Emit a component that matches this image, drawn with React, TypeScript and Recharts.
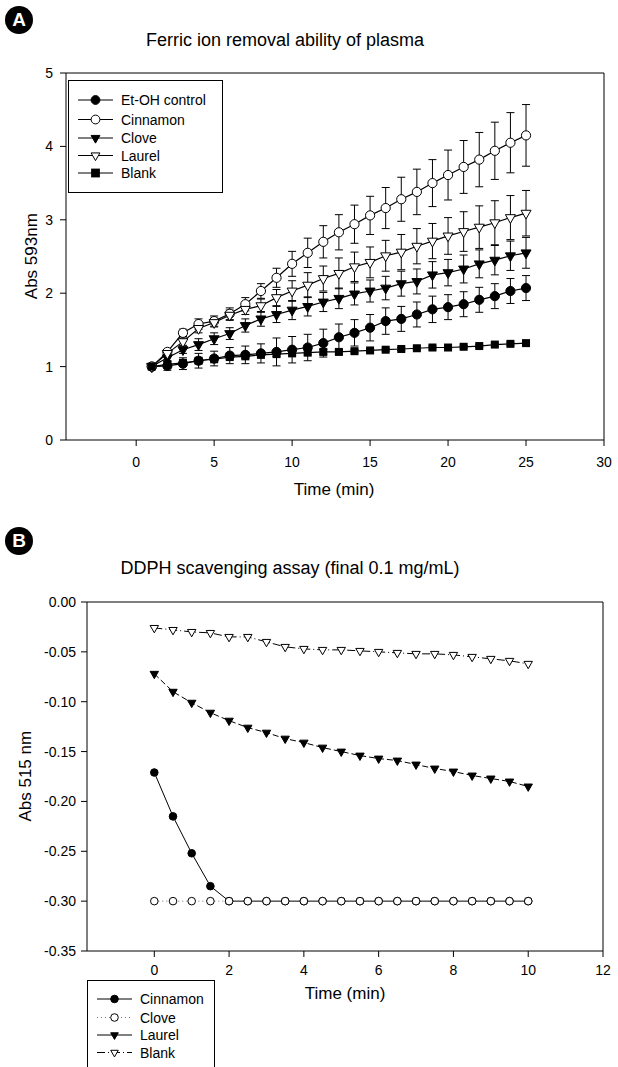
import React from "react";
import { LineChart, Line, XAxis, YAxis, ErrorBar, ReferenceLine } from "recharts";

const FONT = '"Liberation Sans", Arial, Helvetica, sans-serif';

// ---- Panel A: ferric ion removal (Abs 593nm vs time) ----
const timeA = [1, 2, 3, 4, 5, 6, 7, 8, 9, 10, 11, 12, 13, 14, 15, 16, 17, 18, 19, 20, 21, 22, 23, 24, 25];
const etohA = [1.0, 1.01, 1.04, 1.08, 1.11, 1.15, 1.16, 1.18, 1.2, 1.23, 1.26, 1.32, 1.4, 1.46, 1.53, 1.62, 1.65, 1.71, 1.78, 1.81, 1.85, 1.91, 1.96, 2.03, 2.07];
const etohErrA = [0.02, 0.06, 0.08, 0.1, 0.1, 0.11, 0.12, 0.13, 0.19, 0.18, 0.18, 0.19, 0.18, 0.18, 0.18, 0.18, 0.17, 0.17, 0.18, 0.17, 0.17, 0.17, 0.17, 0.17, 0.17];
const cinnamonA = [1.0, 1.2, 1.46, 1.58, 1.62, 1.72, 1.85, 2.03, 2.21, 2.4, 2.55, 2.7, 2.83, 2.94, 3.06, 3.16, 3.28, 3.38, 3.5, 3.61, 3.72, 3.82, 3.94, 4.05, 4.15];
const cinnamonErrA = [0.02, 0.03, 0.05, 0.07, 0.07, 0.08, 0.09, 0.1, 0.13, 0.17, 0.2, 0.22, 0.24, 0.26, 0.26, 0.28, 0.3, 0.31, 0.32, 0.34, 0.36, 0.37, 0.39, 0.41, 0.42];
const cloveA = [1.0, 1.12, 1.23, 1.3, 1.38, 1.45, 1.56, 1.65, 1.71, 1.77, 1.82, 1.88, 1.93, 1.99, 2.03, 2.07, 2.13, 2.16, 2.25, 2.28, 2.33, 2.4, 2.45, 2.51, 2.55];
const cloveErrA = [0.02, 0.04, 0.05, 0.08, 0.08, 0.08, 0.09, 0.1, 0.11, 0.13, 0.13, 0.13, 0.14, 0.15, 0.15, 0.16, 0.17, 0.17, 0.18, 0.18, 0.19, 0.19, 0.2, 0.2, 0.21];
const laurelA = [1.0, 1.18, 1.34, 1.52, 1.6, 1.7, 1.78, 1.83, 1.94, 2.03, 2.11, 2.2, 2.27, 2.36, 2.42, 2.51, 2.56, 2.64, 2.71, 2.78, 2.84, 2.9, 2.96, 3.03, 3.09];
const laurelErrA = [0.02, 0.03, 0.05, 0.06, 0.06, 0.07, 0.07, 0.09, 0.11, 0.14, 0.17, 0.17, 0.21, 0.2, 0.21, 0.21, 0.24, 0.24, 0.24, 0.25, 0.27, 0.29, 0.3, 0.3, 0.31];
const blankA = [1.0, 1.03, 1.05, 1.08, 1.1, 1.13, 1.14, 1.16, 1.17, 1.18, 1.19, 1.2, 1.2, 1.21, 1.22, 1.23, 1.24, 1.25, 1.26, 1.26, 1.27, 1.28, 1.3, 1.31, 1.32];
const blankErrA = [0.01, 0.02, 0.03, 0.03, 0.03, 0.03, 0.03, 0.03, 0.03, 0.03, 0.03, 0.03, 0.03, 0.02, 0.02, 0.02, 0.02, 0.02, 0.02, 0.02, 0.02, 0.02, 0.02, 0.02, 0.02];
const xTicksA = [0, 5, 10, 15, 20, 25, 30];
const yTicksA = [0, 1, 2, 3, 4, 5];

// ---- Panel B: DDPH scavenging (Abs 515 nm vs time) ----
const timeB = [0, 0.5, 1, 1.5, 2, 2.5, 3, 3.5, 4, 4.5, 5, 5.5, 6, 6.5, 7, 7.5, 8, 8.5, 9, 9.5, 10];
const cinnamonB = [-0.171, -0.215, -0.252, -0.285, -0.3, -0.3, -0.3, -0.3, -0.3, -0.3, -0.3, -0.3, -0.3, -0.3, -0.3, -0.3, -0.3, -0.3, -0.3, -0.3, -0.3];
const cloveB = [-0.3, -0.3, -0.3, -0.3, -0.3, -0.3, -0.3, -0.3, -0.3, -0.3, -0.3, -0.3, -0.3, -0.3, -0.3, -0.3, -0.3, -0.3, -0.3, -0.3, -0.3];
const laurelB = [-0.072, -0.09, -0.101, -0.111, -0.119, -0.126, -0.131, -0.137, -0.141, -0.146, -0.15, -0.154, -0.157, -0.159, -0.163, -0.167, -0.17, -0.174, -0.177, -0.18, -0.185];
const blankB = [-0.026, -0.028, -0.03, -0.031, -0.035, -0.035, -0.04, -0.045, -0.047, -0.048, -0.048, -0.049, -0.05, -0.051, -0.052, -0.052, -0.053, -0.055, -0.057, -0.059, -0.062];
const xTicksB = [0, 2, 4, 6, 8, 10, 12];
const yTicksB = [-0.35, -0.3, -0.25, -0.2, -0.15, -0.1, -0.05, 0];

const dataA = timeA.map((t, i) => ({
  t,
  etoh: etohA[i],
  etohErr: etohErrA[i],
  cinnamon: cinnamonA[i],
  cinnamonErr: cinnamonErrA[i],
  clove: cloveA[i],
  cloveErr: cloveErrA[i],
  laurel: laurelA[i],
  laurelErr: laurelErrA[i],
  blank: blankA[i],
  blankErr: blankErrA[i],
}));

const dataB = timeB.map((t, i) => ({
  t,
  cinnamon: cinnamonB[i],
  clove: cloveB[i],
  laurel: laurelB[i],
  blank: blankB[i],
}));

type Shape = "circle" | "circleOpen" | "tri" | "triOpen" | "square";

function Glyph({ shape, cx, cy, s }: { shape: Shape; cx: number; cy: number; s: number }) {
  const fill = shape === "circleOpen" || shape === "triOpen" ? "#fff" : "#000";
  if (shape === "circle" || shape === "circleOpen") {
    return <circle cx={cx} cy={cy} r={s} fill={fill} stroke="#000" strokeWidth={1} />;
  }
  if (shape === "square") {
    return <rect x={cx - s} y={cy - s} width={2 * s} height={2 * s} fill="#000" />;
  }
  const h = s * 1.75;
  const d = `M${cx - s},${cy - h / 3} L${cx + s},${cy - h / 3} L${cx},${cy + (2 * h) / 3} Z`;
  return <path d={d} fill={fill} stroke="#000" strokeWidth={1} />;
}

const marker = (shape: Shape, s: number) => (props: any) => {
  const { cx, cy, index } = props;
  if (cx == null || cy == null) return <g key={`e-${index}`} />;
  return <Glyph key={`m-${shape}-${index}`} shape={shape} cx={cx} cy={cy} s={s} />;
};

function Badge({ letter, x, y }: { letter: string; x: number; y: number }) {
  return (
    <div
      style={{
        position: "absolute",
        left: x - 14,
        top: y - 14,
        width: 28,
        height: 28,
        borderRadius: 14,
        background: "#000",
        color: "#fff",
        fontWeight: "bold",
        fontSize: 19,
        lineHeight: "28px",
        textAlign: "center",
      }}
    >
      {letter}
    </div>
  );
}

function Text({ x, y, size, children, rotate }: { x: number; y: number; size: number; children: React.ReactNode; rotate?: boolean }) {
  return (
    <div
      style={{
        position: "absolute",
        left: x - 250,
        top: y - size * 0.6,
        width: 500,
        textAlign: "center",
        fontSize: size,
        lineHeight: `${size * 1.2}px`,
        whiteSpace: "nowrap",
        transform: rotate ? "rotate(-90deg)" : undefined,
      }}
    >
      {children}
    </div>
  );
}

type LegendItem = { label: string; shape: Shape; dash?: string; color?: string };

function LegendBox({ left, top, width, height, rowY, items, size }: { left: number; top: number; width: number; height: number; rowY: number[]; items: LegendItem[]; size: number }) {
  return (
    <div style={{ position: "absolute", left, top, width, height, border: "1px solid #000", background: "#fff" }}>
      <svg width={width} height={height} style={{ position: "absolute", left: 0, top: 0 }}>
        {items.map((it, i) => (
          <g key={it.label}>
            <line x1={9} x2={44} y1={rowY[i]} y2={rowY[i]} stroke={it.color ?? "#000"} strokeWidth={1} strokeDasharray={it.dash} />
            <Glyph shape={it.shape} cx={26.5} cy={rowY[i]} s={size} />
            <text x={52} y={rowY[i] + 5} fontSize={14} fontFamily={FONT} fill="#000">
              {it.label}
            </text>
          </g>
        ))}
      </svg>
    </div>
  );
}

const tickStyle = { fontSize: 14, fill: "#000", fontFamily: FONT };

const legendA: LegendItem[] = [
  { label: "Et-OH control", shape: "circle" },
  { label: "Cinnamon", shape: "circleOpen" },
  { label: "Clove", shape: "tri" },
  { label: "Laurel", shape: "triOpen" },
  { label: "Blank", shape: "square" },
];

const legendB: LegendItem[] = [
  { label: "Cinnamon", shape: "circle" },
  { label: "Clove", shape: "circleOpen", dash: "1 3", color: "#777" },
  { label: "Laurel", shape: "tri" },
  { label: "Blank", shape: "triOpen", dash: "8 3 1 3" },
];

export default function App() {
  return (
    <div
      style={{
        position: "fixed",
        left: 0,
        top: 0,
        width: 618,
        height: 1067,
        overflow: "hidden",
        background: "#fff",
        color: "#000",
        fontFamily: FONT,
      }}
    >
      {/* Panel A */}
      <div style={{ position: "absolute", left: 0, top: 0 }}>
        <LineChart width={618} height={500} data={dataA} margin={{ top: 73, right: 14, bottom: 30, left: 0 }}>
          <XAxis
            dataKey="t"
            type="number"
            domain={[-4.5, 30]}
            ticks={xTicksA}
            allowDataOverflow
            tick={tickStyle}
            tickSize={6}
            tickMargin={11}
            height={30}
            axisLine={{ stroke: "#000" }}
            tickLine={{ stroke: "#000" }}
          />
          <YAxis
            type="number"
            domain={[0, 5]}
            ticks={yTicksA}
            allowDataOverflow
            tick={tickStyle}
            tickSize={6}
            tickMargin={7}
            width={66}
            axisLine={{ stroke: "#000" }}
            tickLine={{ stroke: "#000" }}
          />
          <ReferenceLine y={5} stroke="#000" />
          <ReferenceLine x={30} stroke="#000" />
          <Line dataKey="etoh" stroke="#000" strokeWidth={1.2} dot={marker("circle", 4.6)} activeDot={false} isAnimationActive={false}>
            <ErrorBar dataKey="etohErr" width={4} stroke="#000" strokeWidth={1} />
          </Line>
          <Line dataKey="cinnamon" stroke="#000" strokeWidth={1.2} dot={marker("circleOpen", 4.6)} activeDot={false} isAnimationActive={false}>
            <ErrorBar dataKey="cinnamonErr" width={4} stroke="#000" strokeWidth={1} />
          </Line>
          <Line dataKey="clove" stroke="#000" strokeWidth={1.2} dot={marker("tri", 5)} activeDot={false} isAnimationActive={false}>
            <ErrorBar dataKey="cloveErr" width={4} stroke="#000" strokeWidth={1} />
          </Line>
          <Line dataKey="laurel" stroke="#000" strokeWidth={1.2} dot={marker("triOpen", 5)} activeDot={false} isAnimationActive={false}>
            <ErrorBar dataKey="laurelErr" width={4} stroke="#000" strokeWidth={1} />
          </Line>
          <Line dataKey="blank" stroke="#000" strokeWidth={1.2} dot={marker("square", 4)} activeDot={false} isAnimationActive={false}>
            <ErrorBar dataKey="blankErr" width={4} stroke="#000" strokeWidth={1} />
          </Line>
        </LineChart>
      </div>
      <Badge letter="A" x={19} y={20} />
      <Text x={285} y={41} size={18}>Ferric ion removal ability of plasma</Text>
      <Text x={32} y={256} size={17} rotate>Abs 593nm</Text>
      <Text x={334} y={490} size={17}>Time (min)</Text>
      <LegendBox left={68} top={80} width={153} height={111} rowY={[19, 38.5, 57, 74.5, 92]} items={legendA} size={4.4} />

      {/* Panel B */}
      <div style={{ position: "absolute", left: 0, top: 500 }}>
        <LineChart width={618} height={567} data={dataB} margin={{ top: 102, right: 15, bottom: 86, left: 0 }}>
          <XAxis
            dataKey="t"
            type="number"
            domain={[-1.8, 12]}
            ticks={xTicksB}
            allowDataOverflow
            tick={tickStyle}
            tickSize={6}
            tickMargin={8}
            height={30}
            axisLine={{ stroke: "#000" }}
            tickLine={{ stroke: "#000" }}
          />
          <YAxis
            type="number"
            domain={[-0.35, 0]}
            ticks={yTicksB}
            allowDataOverflow
            tickFormatter={(v: number) => v.toFixed(2)}
            tick={tickStyle}
            tickSize={6}
            tickMargin={5}
            width={87}
            axisLine={{ stroke: "#000" }}
            tickLine={{ stroke: "#000" }}
          />
          <ReferenceLine y={0} stroke="#000" />
          <ReferenceLine x={12} stroke="#000" />
          <Line dataKey="cinnamon" stroke="#000" strokeWidth={1} dot={marker("circle", 3.8)} activeDot={false} isAnimationActive={false} />
          <Line dataKey="clove" stroke="#777" strokeWidth={1} strokeDasharray="1 3" dot={marker("circleOpen", 3.8)} activeDot={false} isAnimationActive={false} />
          <Line dataKey="laurel" stroke="#000" strokeWidth={1} strokeDasharray="6 3" dot={marker("tri", 4.2)} activeDot={false} isAnimationActive={false} />
          <Line dataKey="blank" stroke="#000" strokeWidth={1} strokeDasharray="8 3 1 3" dot={marker("triOpen", 4.2)} activeDot={false} isAnimationActive={false} />
        </LineChart>
      </div>
      <Badge letter="B" x={19} y={541} />
      <Text x={290} y={569} size={18}>DDPH scavenging assay (final 0.1 mg/mL)</Text>
      <Text x={26} y={776} size={17} rotate>Abs 515 nm</Text>
      <Text x={345} y={994} size={17}>Time (min)</Text>
      <LegendBox left={87} top={980} width={126} height={100} rowY={[18, 36.5, 54, 71.5]} items={legendB} size={3.8} />
    </div>
  );
}
